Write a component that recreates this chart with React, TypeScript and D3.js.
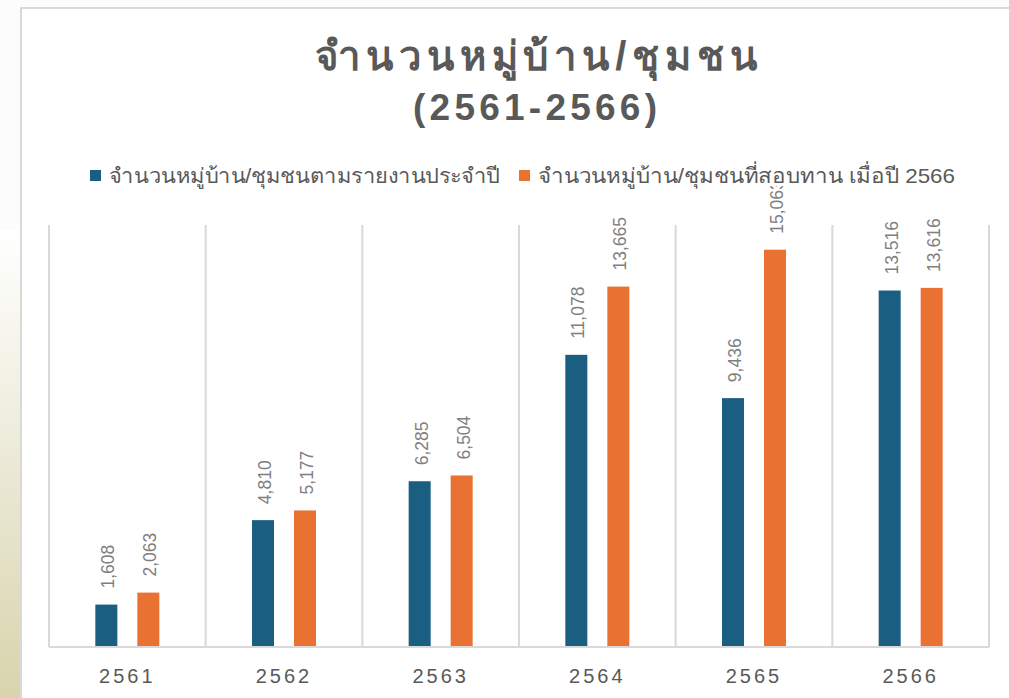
import React, { useEffect, useRef } from "react";
import * as d3 from "d3";

const years = ["2561", "2562", "2563", "2564", "2565", "2566"];
const seriesNames = [
  "จำนวนหมู่บ้าน/ชุมชนตามรายงานประจำปี",
  "จำนวนหมู่บ้าน/ชุมชนที่สอบทาน เมื่อปี 2566",
];
const reported = [1608, 4810, 6285, 11078, 9436, 13516];
const reviewed = [2063, 5177, 6504, 13665, 15063, 13616];
const titleLines = ["จำนวนหมู่บ้าน/ชุมชน", "(2561-2566)"];
const colors = ["#1a5e82", "#e97132"];

const W = 1009;
const H = 698;

export default function App() {
  const ref = useRef<SVGSVGElement>(null);

  useEffect(() => {
    const svg = d3.select(ref.current);
    svg.selectAll("*").remove();

    const defs = svg.append("defs");
    const grad = defs
      .append("linearGradient")
      .attr("id", "side")
      .attr("x1", 0).attr("y1", 0).attr("x2", 0).attr("y2", 1);
    grad.append("stop").attr("offset", "0%").attr("stop-color", "#ffffff");
    grad.append("stop").attr("offset", "100%").attr("stop-color", "#d8d4ad");

    // background + frame
    svg.append("rect").attr("width", W).attr("height", H).attr("fill", "#fcfcfc");
    svg.append("rect").attr("x", 0).attr("y", 230).attr("width", 20).attr("height", H - 230).attr("fill", "url(#side)");
    svg.append("rect").attr("x", 21).attr("y", 8).attr("width", W).attr("height", H).attr("fill", "#ffffff")
      .attr("stroke", "#d9d9d9").attr("stroke-width", 2);

    const left = 49, right = 989, top = 225, bottom = 647;
    const x = d3.scaleBand().domain(years).range([left, right]).padding(0);
    const inner = d3.scaleBand().domain(["a", "b"]).range([0, 64]).paddingInner(0.476).paddingOuter(0);
    const y = d3.scaleLinear().domain([0, 16000]).range([bottom, top]);

    // gridlines at category boundaries
    const bounds = years.map(d => x(d)!).concat([right]);
    svg.append("g").selectAll("line").data(bounds).join("line")
      .attr("x1", d => d).attr("x2", d => d)
      .attr("y1", top).attr("y2", bottom)
      .attr("stroke", "#d9d9d9").attr("stroke-width", 2);

    const rows = years.map((yr, i) => ({ yr, vals: [reported[i], reviewed[i]] }));
    const off = (x.bandwidth() - 64) / 2;

    const groups = svg.append("g").selectAll("g").data(rows).join("g")
      .attr("transform", d => `translate(${x(d.yr)! + off},0)`);

    groups.selectAll("rect").data(d => d.vals).join("rect")
      .attr("x", (d, i) => inner(i ? "b" : "a")!)
      .attr("width", inner.bandwidth())
      .attr("y", d => y(d))
      .attr("height", d => bottom - y(d))
      .attr("fill", (d, i) => colors[i]);

    groups.selectAll("text").data(d => d.vals).join("text")
      .attr("transform", (d, i) => `translate(${inner(i ? "b" : "a")! + inner.bandwidth() / 2 + 2},${y(d) - 16}) rotate(-90)`)
      .attr("dy", "0.35em")
      .attr("text-anchor", "start")
      .attr("font-family", "'Liberation Sans', Arial, sans-serif")
      .attr("font-size", 17.5)
      .attr("fill", "#7f7f7f")
      .text(d => d3.format(",")(d));

    // x axis
    svg.append("line").attr("x1", left).attr("x2", right).attr("y1", bottom).attr("y2", bottom)
      .attr("stroke", "#d9d9d9").attr("stroke-width", 2);
    svg.append("g").selectAll("text").data(years).join("text")
      .attr("x", d => x(d)! + x.bandwidth() / 2)
      .attr("y", 683)
      .attr("text-anchor", "middle")
      .attr("font-family", "'Liberation Sans', Arial, sans-serif")
      .attr("font-size", 20)
      .attr("letter-spacing", 3)
      .attr("fill", "#595959")
      .text(d => d);

    // title
    const titleSize = [40, 37];
    const titleBase = [70, 120];
    const titleSpan = [315, 413, 757, 657];
    svg.append("g").selectAll("text").data(titleLines).join("text")
      .attr("x", (d, i) => titleSpan[i])
      .attr("y", (d, i) => titleBase[i])
      .attr("font-family", "Tahoma, 'Liberation Sans', sans-serif")
      .attr("font-weight", "bold")
      .attr("font-size", (d, i) => titleSize[i])
      .attr("textLength", (d, i) => titleSpan[i + 2] - titleSpan[i])
      .attr("lengthAdjust", "spacing")
      .attr("fill", "#595959")
      .text(d => d);

    // legend
    svg.append("rect").attr("x", 80).attr("y", 160).attr("width", 890).attr("height", 26).attr("fill", "#ffffff");
    const legX = [90, 519];
    const legEnd = [500, 955];
    const leg = svg.append("g").selectAll("g").data(seriesNames).join("g")
      .attr("transform", (d, i) => `translate(${legX[i]},0)`);
    leg.append("rect").attr("x", 0).attr("y", 170).attr("width", 11).attr("height", 11)
      .attr("fill", (d, i) => colors[i]);
    leg.append("text")
      .attr("x", 19).attr("y", 183)
      .attr("font-family", "Tahoma, 'Liberation Sans', sans-serif")
      .attr("font-size", 21)
      .attr("fill", "#595959")
      .attr("textLength", (d, i) => legEnd[i] - legX[i] - 19)
      .attr("lengthAdjust", "spacingAndGlyphs")
      .text(d => d);
  }, []);

  return (
    <svg ref={ref} width={W} height={H} style={{ position: "absolute", left: 0, top: 0 }} />
  );
}
